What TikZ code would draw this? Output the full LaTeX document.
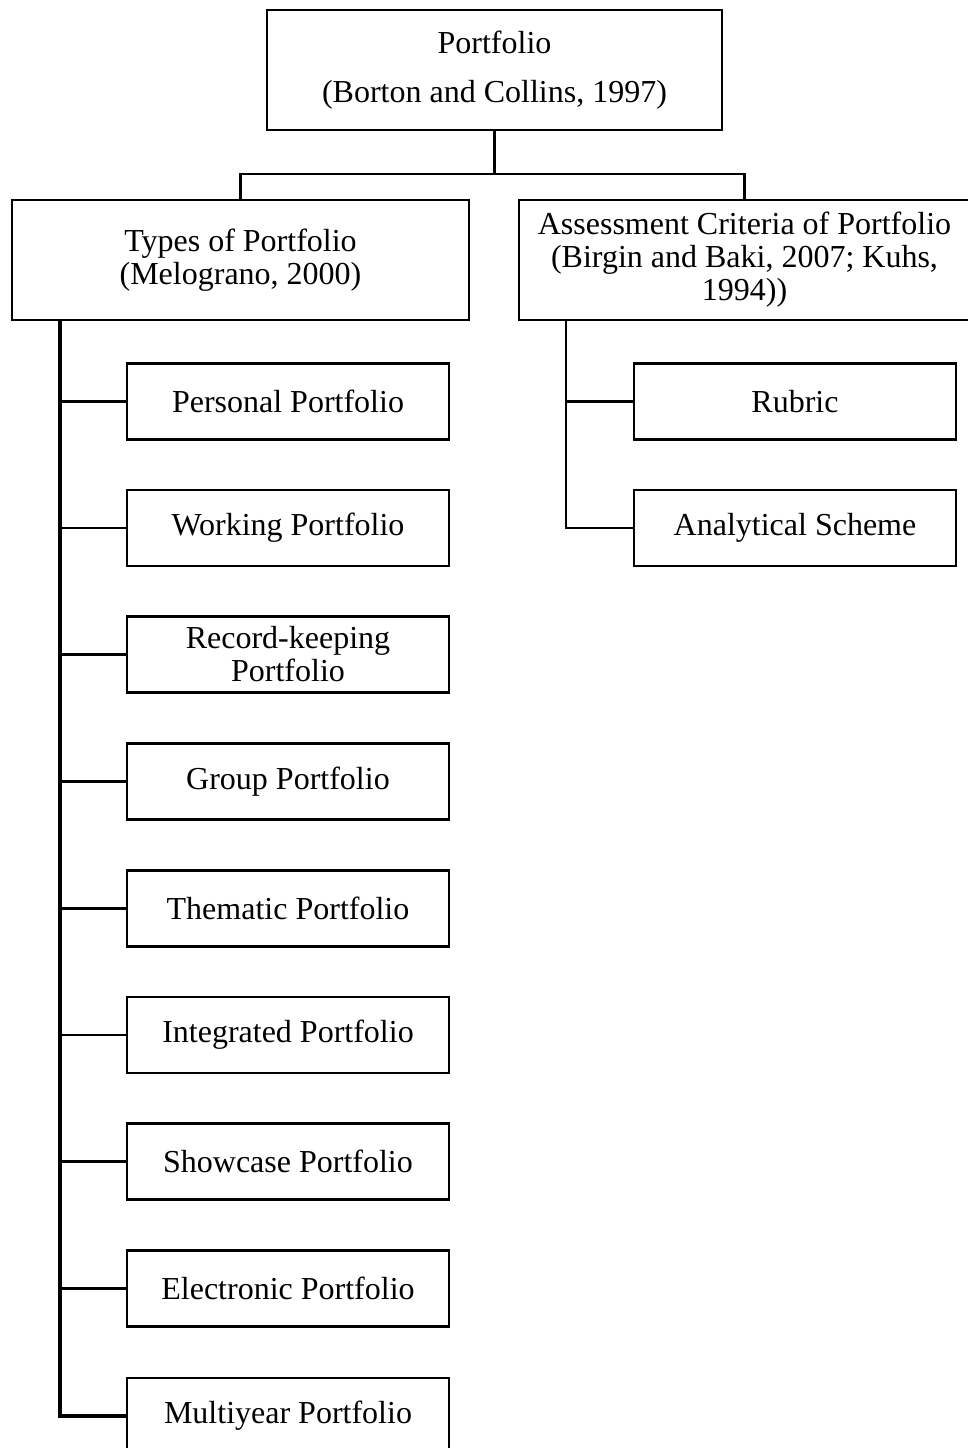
\documentclass[tikz,border=0pt]{standalone}
\usepackage{fontspec}
\setmainfont{Liberation Serif}
\usetikzlibrary{positioning}

\begin{document}
\begin{tikzpicture}[
    x=0.5pt, y=-0.5pt,
    box/.style={rectangle, draw, line width=1.2pt, inner sep=0pt, minimum width=161pt, minimum height=38pt, align=center, font=\fontsize{16}{16.5}\selectfont},
    bigbox/.style={box, minimum height=60pt},
    link/.style={line width=1.2pt},
    trunk/.style={line width=1.6pt}
]
    \useasboundingbox (0,0) rectangle (968,1448);

    % top level
    \node[bigbox, minimum width=227.5pt, font=\fontsize{16}{24.5}\selectfont] (root) at (494.5,70) {Portfolio\\(Borton and Collins, 1997)};
    \node[bigbox, minimum width=228.5pt] (types) at (240.5,260) {Types of Portfolio\\(Melograno, 2000)};
    \node[bigbox, minimum width=225.5pt] (assess) at (744.5,260) {Assessment Criteria of Portfolio\\(Birgin and Baki, 2007; Kuhs,\\1994))};

    \coordinate (bus) at (494.5,174);
    \draw[link] (root.south) -- (bus);
    \draw[link] (types.north) |- (bus) -| (assess.north);

    % types of portfolio
    \node[box] (personal) at (288,401.5) {Personal Portfolio};
    \node[box] (working) at (288,528) {Working Portfolio};
    \node[box] (record) at (288,654.5) {Record-keeping\\Portfolio};
    \node[box] (group) at (288,781.5) {Group Portfolio};
    \node[box] (thematic) at (288,908.5) {Thematic Portfolio};
    \node[box] (integrated) at (288,1035) {Integrated Portfolio};
    \node[box] (showcase) at (288,1161.5) {Showcase Portfolio};
    \node[box] (electronic) at (288,1288.5) {Electronic Portfolio};
    \node[box] (multiyear) at (288,1416) {Multiyear Portfolio};

    \coordinate (ltrunk) at (60,320);
    \draw[trunk] (ltrunk) |- (multiyear.west);
    \foreach \n in {personal,working,record,group,thematic,integrated,showcase,electronic}
        \draw[link] (ltrunk |- \n.west) -- (\n.west);

    % assessment criteria
    \node[box] (rubric) at (795,401.5) {Rubric};
    \node[box] (scheme) at (795,528) {Analytical Scheme};

    \coordinate (rtrunk) at (566,320);
    \draw[link] (rtrunk) |- (scheme.west);
    \draw[link] (rtrunk |- rubric.west) -- (rubric.west);
\end{tikzpicture}
\end{document}
